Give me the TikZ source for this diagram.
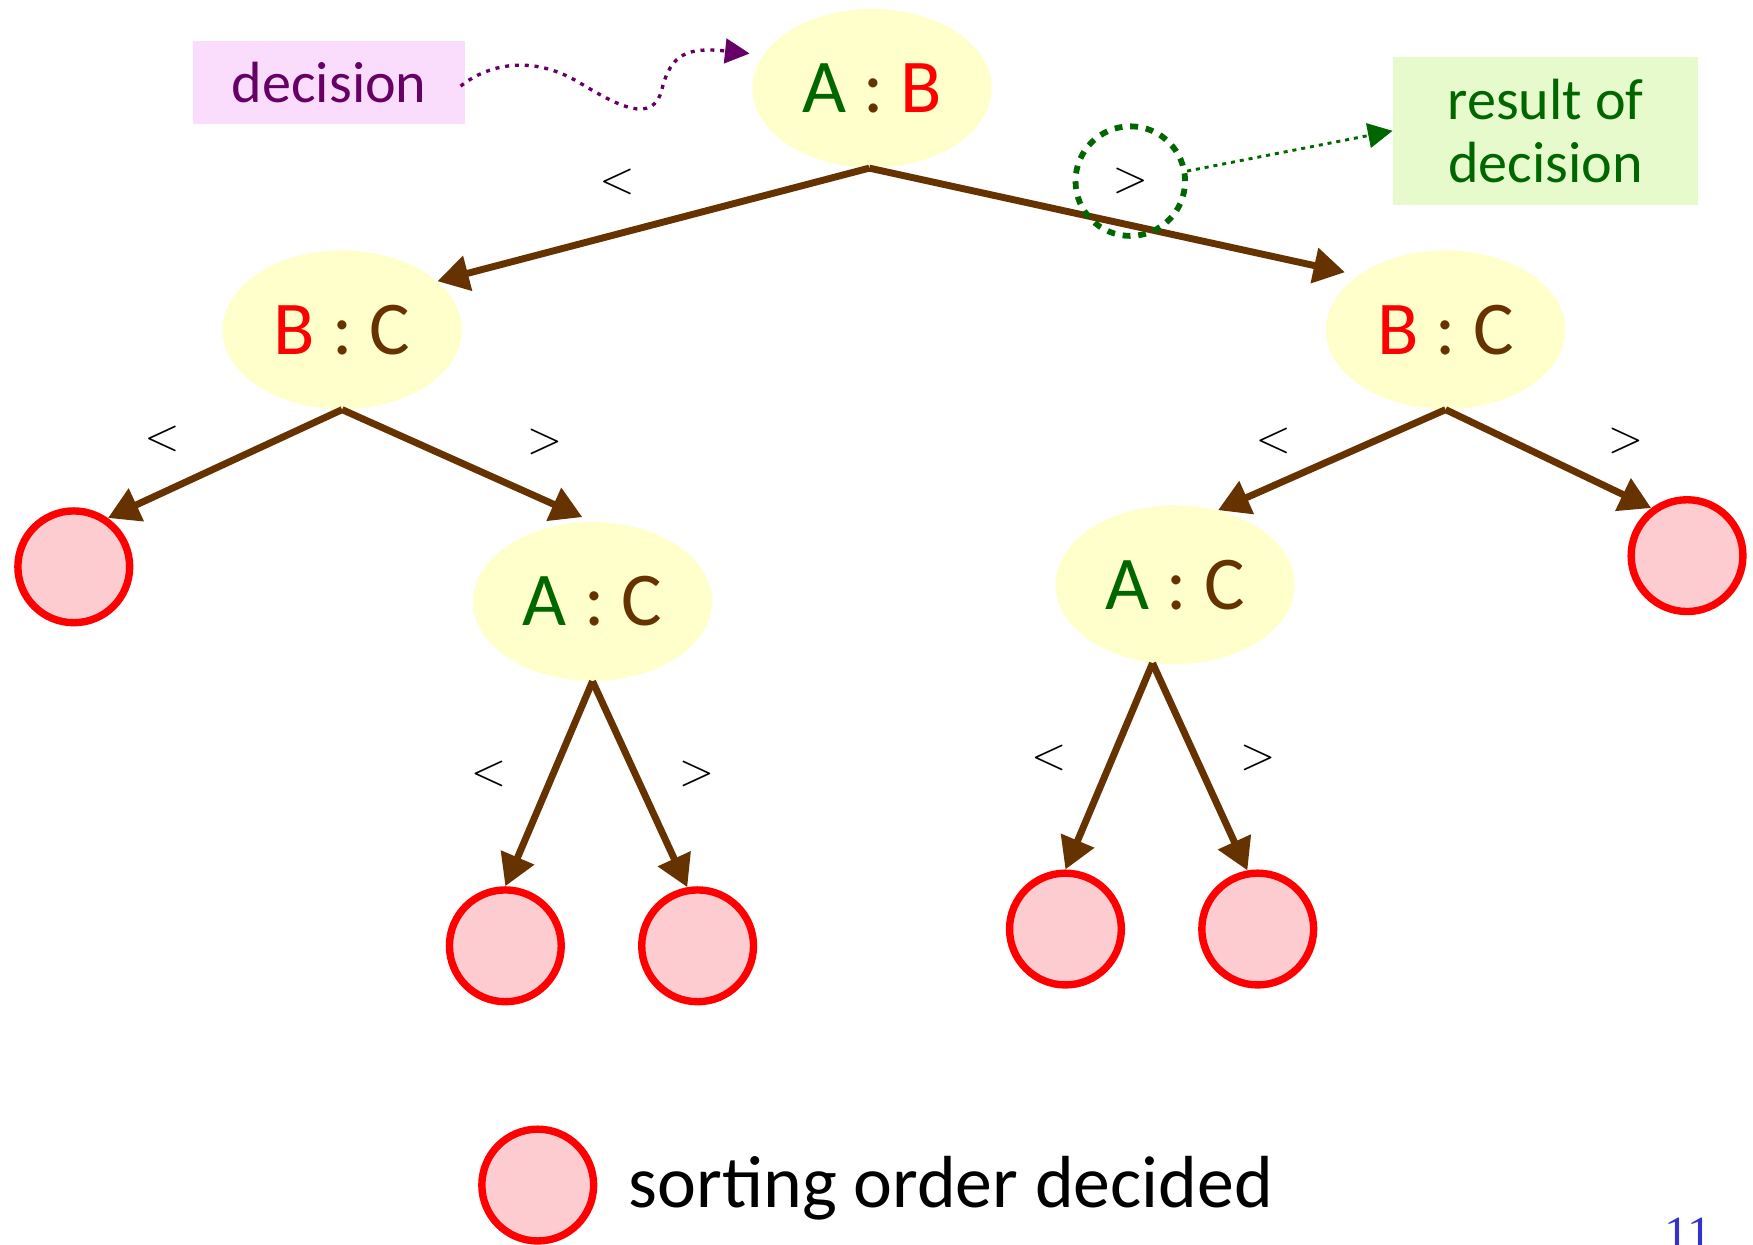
\documentclass[tikz,border=0pt]{standalone}
\usepackage{fontspec}
\setmainfont{Carlito}
\newfontfamily\pagefont{Liberation Serif}
\usetikzlibrary{arrows.meta,shapes.geometric}
\definecolor{brn}{RGB}{102,51,0}
\definecolor{grn}{RGB}{0,102,0}
\definecolor{prp}{RGB}{102,0,102}
\definecolor{ylw}{RGB}{255,255,204}
\definecolor{leafpink}{RGB}{252,204,208}
\definecolor{notepink}{RGB}{250,220,252}
\definecolor{notegreen}{RGB}{230,250,204}
\definecolor{pageblue}{RGB}{51,51,204}

\begin{document}
\begin{tikzpicture}[x=0.5pt,y=-0.5pt,
  cmp/.style={ellipse,fill=ylw,minimum width=107pt,minimum height=71pt,
    inner sep=0pt,font=\fontsize{34}{40}\selectfont},
  leaf/.style={circle,draw=red,line width=3.3pt,fill=leafpink,
    minimum size=50pt,inner sep=0pt},
  branch/.style={draw=brn,line width=3.1pt,-{Triangle[length=14pt,width=15.5pt]}},
  rel/.style={font=\fontsize{20}{24}\selectfont,inner sep=0pt}]
  \useasboundingbox (0,0) rectangle (1568,1113);

  % comparisons
  \node [cmp] (AB) at (780,79) {\textcolor{grn}{A} \textcolor{brn}{:} \textcolor{red}{B}};
  \node [cmp] (BC1) at (306,295) {\textcolor{red}{B} \textcolor{brn}{:} \textcolor{brn}{C}};
  \node [cmp] (BC2) at (1293,295) {\textcolor{red}{B} \textcolor{brn}{:} \textcolor{brn}{C}};
  \node [cmp] (AC1) at (530,538) {\textcolor{grn}{A} \textcolor{brn}{:} \textcolor{brn}{C}};
  \node [cmp] (AC2) at (1051,523) {\textcolor{grn}{A} \textcolor{brn}{:} \textcolor{brn}{C}};

  % leaves
  \node [leaf] (L1) at (66,507) {};
  \node [leaf] (L2) at (452,846) {};
  \node [leaf] (L3) at (624,846) {};
  \node [leaf] (L4) at (953,831) {};
  \node [leaf] (L5) at (1125,831) {};
  \node [leaf] (L6) at (1509,497) {};

  \draw [branch] (AB.268) -- (BC1.27);
  \draw [branch, shorten >=6pt] (AB.268) -- (BC2.148);
  \draw [branch] (BC1.south) -- (L1.55);
  \draw [branch, shorten >=5pt] (BC1.south) -- (AC1.north);
  \draw [branch] (AC1.south) -- (L2.north);
  \draw [branch] (AC1.south) -- (L3.100);
  \draw [branch] (BC2.south) -- (AC2.60);
  \draw [branch] (BC2.south) -- (L6.127);
  \draw [branch] (AC2.254) -- (L4.north);
  \draw [branch] (AC2.254) -- (L5.100);

  % outcome labels
  \node [rel] (lt1) at (552,163) {$<$};
  \node [rel, circle, draw=grn, line width=2.6pt, dash pattern=on 3.5pt off 3.5pt,
  minimum size=49pt] (gt1) at (1011,162) {$>$};
  \node [rel] (lt2) at (145,393) {$<$};
  \node [rel] (gt2) at (487,395) {$>$};
  \node [rel] (lt3) at (437,692) {$<$};
  \node [rel] (gt3) at (623,692) {$>$};
  \node [rel] (lt4) at (1139,394) {$<$};
  \node [rel] (gt4) at (1454,394) {$>$};
  \node [rel] (lt5) at (938,678) {$<$};
  \node [rel] (gt5) at (1125,678) {$>$};

  % notes
  \node [fill=notepink, minimum width=121.5pt, minimum height=37pt, text=prp,
  font=\fontsize{26}{28}\selectfont] (dec) at (294.5,74) {decision};
  \node [fill=notegreen, minimum width=136.5pt, minimum height=66pt, text=grn,
  align=center, font=\fontsize{26}{28}\selectfont] (res) at (1382.5,117)
  {result of\\decision};
  \draw [prp, line width=1.5pt, dash pattern=on 1.8pt off 2.6pt,
  -{Triangle[length=11pt,width=11pt]}, shorten >=6pt] (412,77) .. controls
  (440,55) and (480,50) .. (520,75) .. controls (552,94) and (584,112) ..
  (592,80) .. controls (600,48) and (615,42) .. (AB.163);
  \draw [grn, line width=1.3pt, dash pattern=on 1.8pt off 2.2pt,
  -{Triangle[length=11pt,width=11pt]}] (gt1.10) -- (res.west);

  % legend
  \node [leaf] (key) at (481,1060) {};
  \node [anchor=base west, inner sep=0pt, font=\fontsize{33}{36}\selectfont]
  (keytext) at (562,1080) {sorting order decided};
  \node [text=pageblue, font=\pagefont\fontsize{22}{24}\selectfont] (pg)
  at (1510,1104) {11};
\end{tikzpicture}
\end{document}
